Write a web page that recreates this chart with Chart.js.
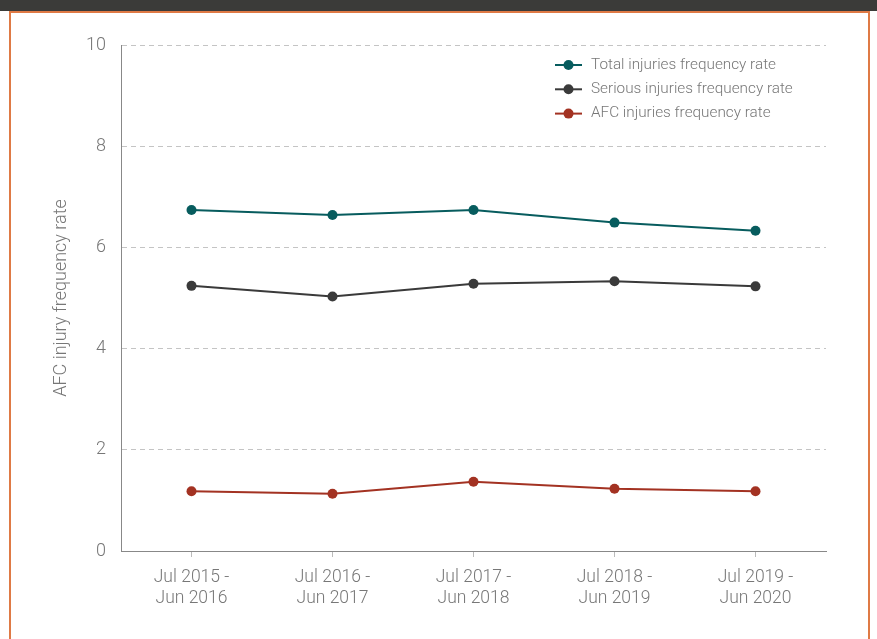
<!DOCTYPE html>
<html>
<head>
<meta charset="utf-8">
<script src="https://cdn.jsdelivr.net/npm/chart.js@4.4.0/dist/chart.umd.min.js"></script>
<style>
  html, body { margin: 0; padding: 0; background: #fff; }
  body { width: 877px; height: 639px; position: relative; overflow: hidden; }
  .topbar { position: absolute; left: 0; top: 0; width: 877px; height: 11px; background: #3b3b39; }
  .panel {
    position: absolute; left: 9px; top: 11px; width: 857px; height: 640px;
    border: 2px solid #df7a45; border-bottom: none; background: #fff;
  }
  #chartWrap { position: absolute; left: 0; top: 0; width: 877px; height: 639px; }
</style>
</head>
<body>
<div class="topbar"></div>
<div class="panel"></div>
<div id="chartWrap"><canvas id="injuryChart"></canvas></div>

<script>
const periods = [
  ["Jul 2015 -", "Jun 2016"],
  ["Jul 2016 -", "Jun 2017"],
  ["Jul 2017 -", "Jun 2018"],
  ["Jul 2018 -", "Jun 2019"],
  ["Jul 2019 -", "Jun 2020"]
];
const totalRate = [6.74, 6.64, 6.74, 6.49, 6.33];
const seriousRate = [5.24, 5.03, 5.28, 5.33, 5.23];
const afcRate = [1.18, 1.13, 1.37, 1.23, 1.18];
const yTicks = [0, 2, 4, 6, 8, 10];

const fontFamily = "Roboto, 'Noto Sans', sans-serif";
const textColor = "#777";

// legend drawn inside the plot, top right
const insideLegend = {
  id: "insideLegend",
  afterDraw(chart) {
    const ctx = chart.ctx;
    const x0 = 555;
    let y = 65;
    ctx.save();
    ctx.font = "300 15.3px " + fontFamily;
    ctx.textBaseline = "middle";
    chart.data.datasets.forEach((ds) => {
      ctx.strokeStyle = ds.borderColor;
      ctx.lineWidth = 2;
      ctx.beginPath();
      ctx.moveTo(x0, y);
      ctx.lineTo(x0 + 27, y);
      ctx.stroke();
      ctx.fillStyle = ds.borderColor;
      ctx.beginPath();
      ctx.arc(x0 + 13.5, y, 5, 0, Math.PI * 2);
      ctx.fill();
      ctx.fillStyle = textColor;
      ctx.fillText(ds.label, x0 + 36, y);
      y += 24.3;
    });
    ctx.restore();
  }
};

const ctx = document.getElementById("injuryChart").getContext("2d");

new Chart(ctx, {
  type: "line",
  data: {
    labels: periods,
    datasets: [
      {
        label: "Total injuries frequency rate",
        data: totalRate,
        borderColor: "#075c5e",
        backgroundColor: "#075c5e",
      },
      {
        label: "Serious injuries frequency rate",
        data: seriousRate,
        borderColor: "#3a3a3a",
        backgroundColor: "#3a3a3a",
      },
      {
        label: "AFC injuries frequency rate",
        data: afcRate,
        borderColor: "#a33222",
        backgroundColor: "#a33222",
      },
    ],
  },
  options: {
    responsive: true,
    maintainAspectRatio: false,
    animation: false,
    elements: {
      line: { borderWidth: 2, tension: 0 },
      point: { radius: 5, hoverRadius: 6, borderWidth: 0 },
    },
    layout: { padding: { left: 51, top: 45, right: 51, bottom: 0 } },
    plugins: {
      legend: { display: false },
      tooltip: { enabled: false },
    },
    scales: {
      x: {
        offset: true,
        grid: { drawOnChartArea: false, drawTicks: true, tickLength: 6, color: "#bbb" },
        border: { display: true, color: "#888", width: 1 },
        ticks: {
          color: textColor,
          padding: 11,
          maxRotation: 0,
          font: { family: fontFamily, size: 17.5, weight: 300, lineHeight: 1.15 },
        },
        afterFit(scale) { scale.height = 88; },
      },
      y: {
        min: 0,
        max: 10,
        afterBuildTicks(scale) {
          scale.ticks = yTicks.map((v) => ({ value: v }));
        },
        grid: { color: "#c4c4c4", drawTicks: false, lineWidth: 1 },
        border: { display: true, color: "#888", width: 1, dash: [5, 4] },
        ticks: {
          color: textColor,
          padding: 15,
          font: { family: fontFamily, size: 18, weight: 300 },
        },
        title: {
          display: true,
          text: "AFC injury frequency rate",
          color: textColor,
          padding: 0,
          font: { family: fontFamily, size: 18, weight: 300, lineHeight: 1.2 },
        },
        afterFit(scale) { scale.width = 70; },
      },
    },
  },
  plugins: [insideLegend],
});
</script>
</body>
</html>
